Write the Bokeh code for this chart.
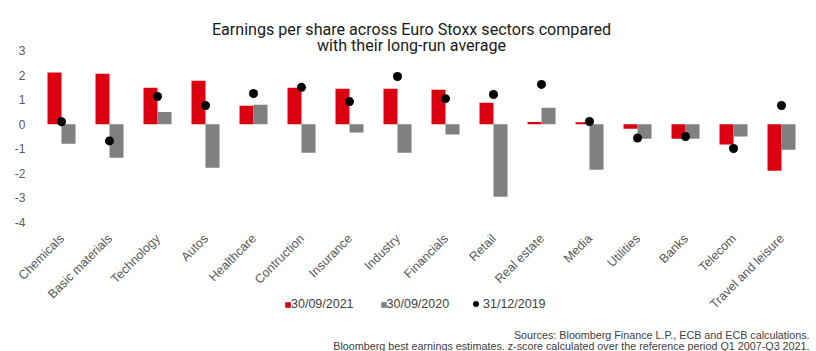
from bokeh.plotting import figure
from bokeh.models import ColumnDataSource, Range1d, Label, Legend, LegendItem
from bokeh.core.properties import value
from bokeh.transform import dodge
from bokeh.embed import file_html
from bokeh.resources import INLINE
import math

sectors = ["Chemicals", "Basic materials", "Technology", "Autos", "Healthcare", "Contruction",
           "Insurance", "Industry", "Financials", "Retail", "Real estate", "Media", "Utilities",
           "Banks", "Telecom", "Travel and leisure"]
eps_2021 = [2.10, 2.05, 1.48, 1.77, 0.75, 1.48, 1.44, 1.44, 1.40, 0.87, 0.09, 0.08, -0.18, -0.59, -0.83, -1.89]
eps_2020 = [-0.79, -1.36, 0.50, -1.77, 0.79, -1.16, -0.34, -1.16, -0.42, -2.95, 0.67, -1.85, -0.59, -0.59, -0.50, -1.04]
eps_2019 = [0.10, -0.68, 1.13, 0.76, 1.25, 1.50, 0.92, 1.94, 1.04, 1.21, 1.62, 0.11, -0.56, -0.50, -0.99, 0.76]
y_ticks = [3, 2, 1, 0, -1, -2, -3, -4]
series_labels = ["30/09/2021", "30/09/2020", "31/12/2019"]

RED = "#DA0010"
GREY = "#808080"
TXT = "#595959"
FONT = "Liberation Sans"

W, H = 816, 351
PLOT_LEFT = 37       # canvas column where the first category slot starts
CAT_PX = 48          # px per category
Y_TOP_PX, Y_BOT_PX = 50, 222   # canvas rows of y=3 and y=-4
ppu = (Y_BOT_PX - Y_TOP_PX) / (max(y_ticks) - min(y_ticks))
y_start = min(y_ticks) - (H - Y_BOT_PX) / ppu
y_end = max(y_ticks) + Y_TOP_PX / ppu
x_start = -0.5 - PLOT_LEFT / CAT_PX
x_end = x_start + W / CAT_PX

def sx(px):  # canvas column -> data x
    return x_start + px / CAT_PX

idx = list(range(len(sectors)))
src = ColumnDataSource(dict(x=idx, cat=sectors, a=eps_2021, b=eps_2020, c=eps_2019))
ysrc = ColumnDataSource(dict(y=y_ticks, t=[str(v) for v in y_ticks]))

p = figure(width=W, height=H, x_range=Range1d(x_start, x_end), y_range=Range1d(y_start, y_end),
           output_backend="svg", toolbar_location=None,
           min_border_left=0, min_border_right=0, min_border_top=0, min_border_bottom=0)
p.outline_line_color = None
p.grid.visible = False
p.axis.visible = False

bw = 14 / CAT_PX
r1 = p.vbar(x=dodge("x", -bw / 2), top="a", bottom=0, width=bw, source=src,
            fill_color=RED, line_color=None)
r2 = p.vbar(x=dodge("x", bw / 2), top="b", bottom=0, width=bw, source=src,
            fill_color=GREY, line_color=None)
r3 = p.scatter(x="x", y="c", source=src, size=9, fill_color="black", line_color=None)

# y tick labels
p.text(x=sx(25), y="y", text="t", source=ysrc, text_align="right", text_baseline="middle",
       text_font=value(FONT), text_font_size="12px", text_color=TXT)

# category labels (rotated), just under the lowest tick
lab_y = min(y_ticks) - 14 / ppu
p.text(x=dodge("x", 0.5 / CAT_PX), y=lab_y, text="cat", source=src, angle=math.pi / 4,
       text_align="right", text_baseline="middle", text_font=value(FONT),
       text_font_size="12.5px", text_color=TXT)

common = dict(orientation="horizontal", label_standoff=0, spacing=26,
              label_text_font=FONT, label_text_font_size="12.5px", label_height=12,
              label_text_color="#404040", background_fill_alpha=0, border_line_color=None,
              padding=0, margin=0)
leg1 = Legend(items=[LegendItem(label=series_labels[0], renderers=[r1]),
                     LegendItem(label=series_labels[1], renderers=[r2])],
              location=(284, 40), glyph_width=7, glyph_height=7, **common)
leg2 = Legend(items=[LegendItem(label=series_labels[2], renderers=[r3])],
              location=(468, 40), glyph_width=15, glyph_height=15, **common)
leg2.label_standoff = -2
p.add_layout(leg1, "center")
p.add_layout(leg2, "center")

title_font = "Roboto"
p.add_layout(Label(x=411, y=H - 28.5, x_units="screen", y_units="screen",
                   text="Earnings per share across Euro Stoxx sectors compared",
                   text_align="center", text_baseline="alphabetic", text_font=title_font,
                   text_font_size="16.1px", text_color="#1a1a1a"))
p.add_layout(Label(x=411, y=H - 45, x_units="screen", y_units="screen",
                   text="with their long-run average",
                   text_align="center", text_baseline="alphabetic", text_font=title_font,
                   text_font_size="16.1px", text_color="#1a1a1a"))
p.add_layout(Label(x=809, y=H - 334.5, x_units="screen", y_units="screen",
                   text="Sources: Bloomberg Finance L.P., ECB and ECB calculations.",
                   text_align="right", text_baseline="alphabetic", text_font=FONT,
                   text_font_size="10.75px", text_color="#404040"))
p.add_layout(Label(x=809, y=H - 345, x_units="screen", y_units="screen",
                   text="Bloomberg best earnings estimates. z-score calculated over the reference period Q1 2007-Q3 2021.",
                   text_align="right", text_baseline="alphabetic", text_font=FONT,
                   text_font_size="10.75px", text_color="#404040"))

open("out.html", "w").write(file_html(p, INLINE))
